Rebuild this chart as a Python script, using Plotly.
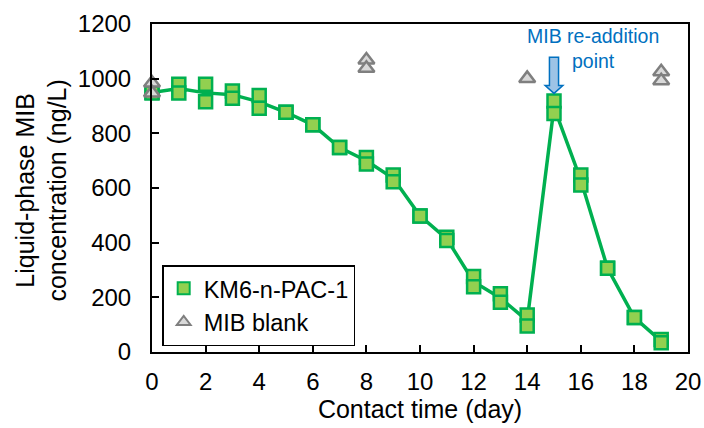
import numpy as np
import plotly.graph_objects as go

# ---- data ----
days = [0, 1, 2, 3, 4, 5, 6, 7, 8, 9, 10, 11, 12, 13, 14, 15, 16, 17, 18, 19]
pac_rep1 = [950, 980, 980, 955, 938, 877, 831, 748, 712, 648, 498, 420, 276, 213, 135, 918, 648, 306, 126, 46]
pac_rep2 = [948, 948, 916, 928, 892, 877, 831, 748, 688, 623, 498, 408, 239, 182, 95, 873, 611, 306, 126, 34]

blank_days = [0, 0, 8, 8, 14, 19, 19]
blank_vals = [984, 948, 1068, 1038, 1001, 1025, 992]

x_ticks = [0, 2, 4, 6, 8, 10, 12, 14, 16, 18, 20]
y_ticks = [0, 200, 400, 600, 800, 1000, 1200]

series_name = "KM6-n-PAC-1"
blank_name = "MIB blank"
readd_day = 15

# ---- derived ----
pac_mean = ((np.array(pac_rep1) + np.array(pac_rep2)) / 2).tolist()
pac_x = days + days
pac_y = pac_rep1 + pac_rep2

FONT = "Liberation Sans, Arial, sans-serif"
GREEN = "#00B050"
LGREEN = "#92D050"
BLUE = "#0070C0"

fig = go.Figure()
fig.add_trace(go.Scatter(x=days, y=pac_mean, mode="lines",
                         line=dict(color=GREEN, width=3.5),
                         showlegend=False, cliponaxis=False, hoverinfo="skip"))
fig.add_trace(go.Scatter(x=pac_x, y=pac_y, mode="markers", name=series_name,
                         marker=dict(symbol="square", size=13, color=LGREEN,
                                     line=dict(color=GREEN, width=2.5)),
                         cliponaxis=False))
fig.add_trace(go.Scatter(x=blank_days, y=blank_vals, mode="markers", name=blank_name,
                         marker=dict(symbol="triangle-up", size=14, color="#D9D9D9",
                                     line=dict(color="#7F7F7F", width=2.5)),
                         cliponaxis=False))

# block arrow for re-addition point
xs, xh = 0.17, 0.33
y_top, y_base, y_tip = 1078, 975, 946
path = (f"M {readd_day - xs} {y_top} L {readd_day + xs} {y_top} L {readd_day + xs} {y_base} "
        f"L {readd_day + xh} {y_base} L {readd_day} {y_tip} L {readd_day - xh} {y_base} "
        f"L {readd_day - xs} {y_base} Z")
fig.add_shape(type="path", path=path, xref="x", yref="y",
              fillcolor="#9DC3E6", line=dict(color=BLUE, width=1.5))

fig.add_annotation(x=16.44, y=1112, xref="x", yref="y", text="MIB re-addition<br>point",
                   showarrow=False, font=dict(family=FONT, size=19.5, color=BLUE),
                   xanchor="center", yanchor="middle")

# y axis title as two-line annotation
fig.add_annotation(x=-0.206, y=0.491, xref="paper", yref="paper",
                   text="Liquid-phase MIB<br>concentration (ng/L)",
                   textangle=-90, showarrow=False,
                   font=dict(family=FONT, size=25, color="black"),
                   xanchor="center", yanchor="middle")

fig.update_layout(
    width=704, height=428,
    margin=dict(l=152, r=16, t=24, b=76),
    paper_bgcolor="white", plot_bgcolor="white",
    font=dict(family=FONT, size=24, color="black"),
    legend=dict(x=0.019, y=0.265, xanchor="left", yanchor="top",
                bgcolor="white", bordercolor="black", borderwidth=1.5,
                font=dict(family=FONT, size=23.5, color="black"),
                itemsizing="constant", tracegroupgap=0),
    showlegend=True,
)
fig.update_xaxes(range=[0, 20], tickvals=x_ticks, ticktext=[str(v) for v in x_ticks],
                 ticks="inside", ticklen=7, tickwidth=1.5, tickcolor="black",
                 showline=True, linecolor="black", linewidth=2, mirror=True,
                 showgrid=False, zeroline=False, ticklabelstandoff=7, automargin=False,
                 tickfont=dict(family=FONT, size=24),
                 title=dict(text="Contact time (day)", font=dict(family=FONT, size=25), standoff=4))
fig.update_yaxes(range=[0, 1200], tickvals=y_ticks, ticktext=[str(v) for v in y_ticks],
                 ticks="inside", ticklen=7, tickwidth=1.5, tickcolor="black",
                 showline=True, linecolor="black", linewidth=2, mirror=True,
                 showgrid=False, zeroline=False, ticklabelstandoff=14, automargin=False,
                 tickfont=dict(family=FONT, size=24))

fig.write_html("out.html")
